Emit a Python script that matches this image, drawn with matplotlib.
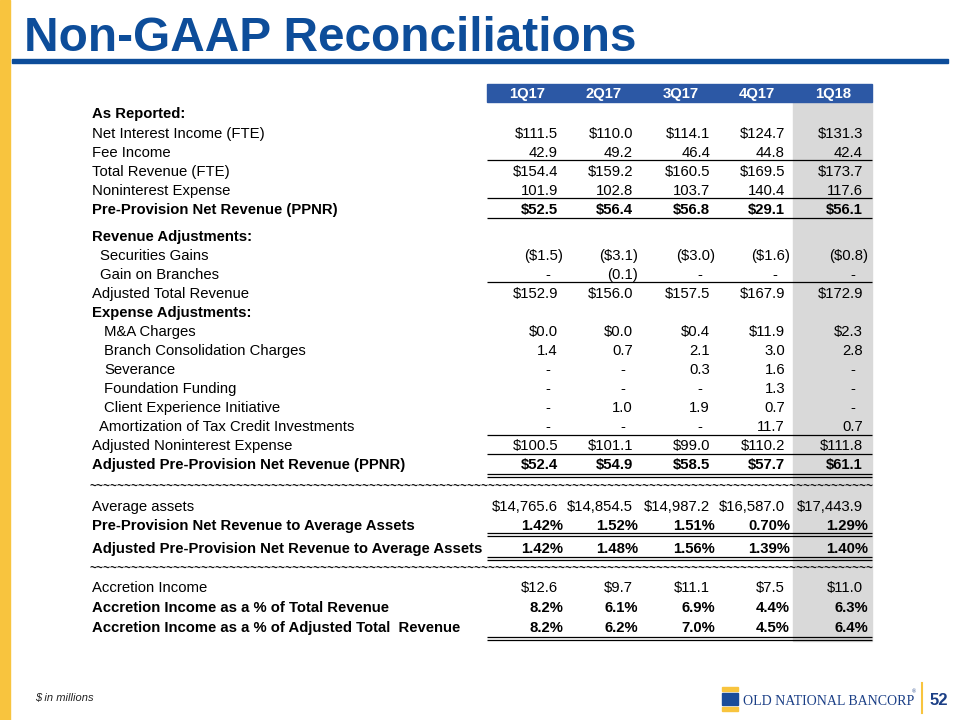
import matplotlib
matplotlib.use("Agg")
import matplotlib.pyplot as plt
from matplotlib.patches import Rectangle

plt.rcParams["font.family"] = ["Liberation Sans", "DejaVu Sans"]

# ---- data ----
quarters = ["1Q17", "2Q17", "3Q17", "4Q17", "1Q18"]

row_labels = [
    "As Reported:",
    "Net Interest Income (FTE)",
    "Fee Income",
    "Total Revenue (FTE)",
    "Noninterest Expense",
    "Pre-Provision Net Revenue (PPNR)",
    "Revenue Adjustments:",
    "Securities Gains",
    "Gain on Branches",
    "Adjusted Total Revenue",
    "Expense Adjustments:",
    "M&A Charges",
    "Branch Consolidation Charges",
    "Severance",
    "Foundation Funding",
    "Client Experience Initiative",
    "Amortization of Tax Credit Investments",
    "Adjusted Noninterest Expense",
    "Adjusted Pre-Provision Net Revenue (PPNR)",
    "Average assets",
    "Pre-Provision Net Revenue to Average Assets",
    "Adjusted Pre-Provision Net Revenue to Average Assets",
    "Accretion Income",
    "Accretion Income as a % of Total Revenue",
    "Accretion Income as a % of Adjusted Total  Revenue",
]

vals_1q17 = ["", "$111.5", "42.9", "$154.4", "101.9", "$52.5", "", "($1.5)", "-", "$152.9", "",
             "$0.0", "1.4", "-", "-", "-", "-", "$100.5", "$52.4",
             "$14,765.6", "1.42%", "1.42%", "$12.6", "8.2%", "8.2%"]
vals_2q17 = ["", "$110.0", "49.2", "$159.2", "102.8", "$56.4", "", "($3.1)", "(0.1)", "$156.0", "",
             "$0.0", "0.7", "-", "-", "1.0", "-", "$101.1", "$54.9",
             "$14,854.5", "1.52%", "1.48%", "$9.7", "6.1%", "6.2%"]
vals_3q17 = ["", "$114.1", "46.4", "$160.5", "103.7", "$56.8", "", "($3.0)", "-", "$157.5", "",
             "$0.4", "2.1", "0.3", "-", "1.9", "-", "$99.0", "$58.5",
             "$14,987.2", "1.51%", "1.56%", "$11.1", "6.9%", "7.0%"]
vals_4q17 = ["", "$124.7", "44.8", "$169.5", "140.4", "$29.1", "", "($1.6)", "-", "$167.9", "",
             "$11.9", "3.0", "1.6", "1.3", "0.7", "11.7", "$110.2", "$57.7",
             "$16,587.0", "0.70%", "1.39%", "$7.5", "4.4%", "4.5%"]
vals_1q18 = ["", "$131.3", "42.4", "$173.7", "117.6", "$56.1", "", "($0.8)", "-", "$172.9", "",
             "$2.3", "2.8", "-", "-", "-", "0.7", "$111.8", "$61.1",
             "$17,443.9", "1.29%", "1.40%", "$11.0", "6.3%", "6.4%"]

# ---- layout ----
row_y = [113, 133, 152, 171, 190, 209, 236, 255, 274, 293, 312, 331, 350, 369, 388, 407,
         426, 445, 464, 506, 525, 548, 587, 607, 627]
indent = {7: 100, 8: 100, 11: 104, 12: 104, 13: 104, 14: 104, 15: 104, 16: 99}
bold_labels = {0, 5, 6, 10, 18, 20, 21, 23, 24}
bold_values = {5, 18, 20, 21, 23, 24}
col_right = [563, 638, 715, 790, 868]
col_center = [527, 604, 681, 757, 833]
single_lines = [160, 198, 218, 282, 435, 454]
double_lines = [474, 533, 557, 637]
tilde_rows = [486, 568]

FS = 10.7
TITLE_BLUE = "#0D4D9A"
HEAD_BLUE = "#2C58A5"
GOLD = "#F8C43E"

fig = plt.figure(figsize=(9.6, 7.2), dpi=100)
ax = fig.add_axes([0, 0, 1, 1])
ax.set_xlim(0, 960)
ax.set_ylim(720, 0)
ax.axis("off")

# slide chrome
ax.add_patch(Rectangle((0, 0), 10, 720, color=GOLD, zorder=1))
ax.text(24, 51, "Non-GAAP Reconciliations", fontsize=34.4, fontweight="bold",
        color=TITLE_BLUE, va="baseline", ha="left")
ax.add_patch(Rectangle((12, 59), 936, 4, color=TITLE_BLUE, zorder=1))

# header bar + shaded latest column
ax.add_patch(Rectangle((487, 84), 385, 18, color=HEAD_BLUE, zorder=1))
ax.add_patch(Rectangle((793, 102), 79, 539, color="#D9D9D9", zorder=0))
for q, cx in zip(quarters, col_center):
    ax.text(cx, 98, q, fontsize=FS, fontweight="bold", color="white",
            ha="center", va="baseline")


def right_edge(i, s):
    if s == "-":
        return col_right[i] - 13
    if s.endswith(")") or s.endswith("%"):
        return col_right[i]
    return col_right[i] - 5


columns = [vals_1q17, vals_2q17, vals_3q17, vals_4q17, vals_1q18]
for r, (label, y) in enumerate(zip(row_labels, row_y)):
    ax.text(indent.get(r, 92), y + 5, label, fontsize=FS, color="black",
            fontweight="bold" if r in bold_labels else "normal",
            ha="left", va="baseline")
    for i, col in enumerate(columns):
        s = col[r]
        if not s:
            continue
        ax.text(right_edge(i, s), y + 5, s, fontsize=FS, color="black",
                fontweight="bold" if r in bold_values else "normal",
                ha="right", va="baseline")

for y in single_lines:
    ax.plot([487, 872], [y, y], color="black", lw=0.9, solid_capstyle="butt")
for y in double_lines:
    ax.plot([487, 872], [y, y], color="black", lw=0.9, solid_capstyle="butt")
    ax.plot([487, 872], [y + 3, y + 3], color="black", lw=0.9, solid_capstyle="butt")
for y in tilde_rows:
    ax.text(90, y + 4, "~" * 112, fontsize=8.5, fontweight="bold", color="#111111",
            ha="left", va="baseline")

# footer
ax.text(35, 701, "$ in millions", fontsize=8, style="italic", color="#222222",
        ha="left", va="baseline")
ax.add_patch(Rectangle((722, 687), 16, 4, color=GOLD))
ax.add_patch(Rectangle((722, 693), 16, 12, color="#1A4C9A"))
ax.add_patch(Rectangle((722, 707), 16, 4, color=GOLD))
ax.text(743, 705, "OLD NATIONAL BANCORP", fontsize=10, family="Liberation Serif",
        color="#1B3F86", ha="left", va="baseline")
ax.text(912, 693, "\u00ae", fontsize=4, family="Liberation Serif",
        color="#1B3F86", ha="left", va="baseline")
ax.plot([922, 922], [683, 713], color=GOLD, lw=1.5)
ax.text(930, 705, "52", fontsize=12, fontweight="bold", color="#1B3F86",
        ha="left", va="baseline")

fig.savefig("out.png", dpi=100)
